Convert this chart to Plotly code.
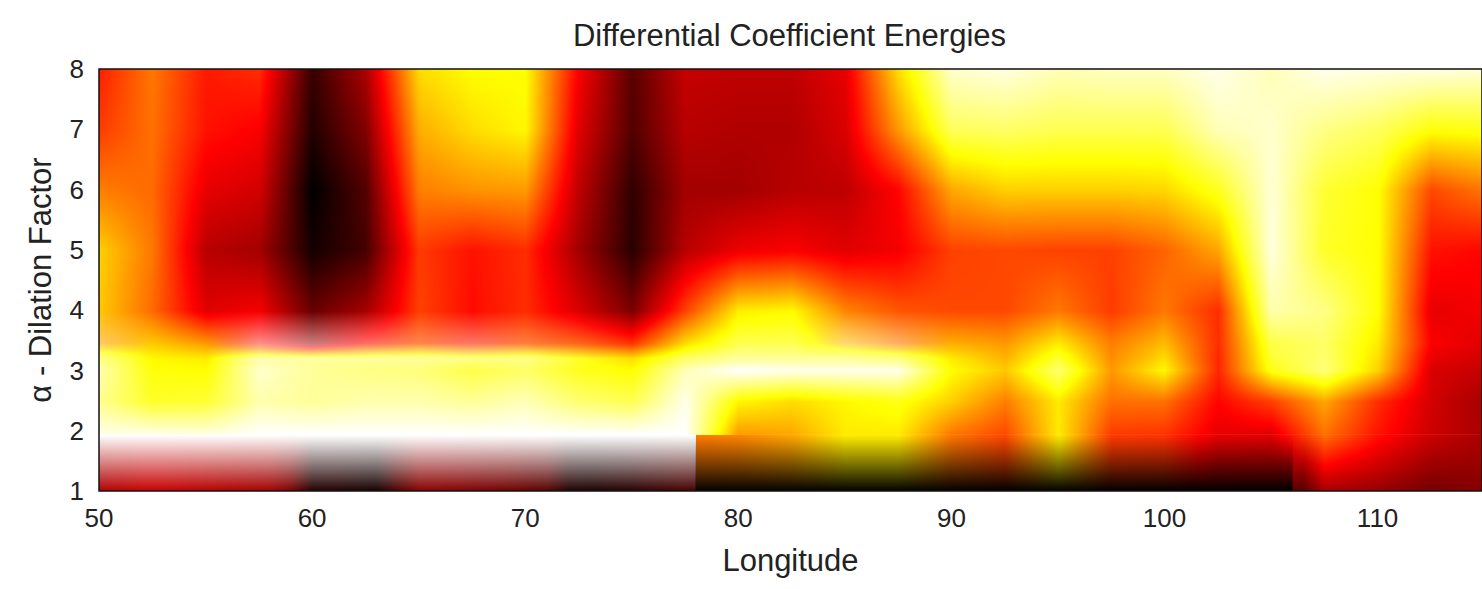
import plotly.graph_objects as go

TITLE = "Differential Coefficient Energies"
X_LABEL = "Longitude"
Y_LABEL = "α - Dilation Factor"
X_TICKS = [50, 60, 70, 80, 90, 100, 110]
Y_TICKS = [1, 2, 3, 4, 5, 6, 7, 8]

LONGITUDE = [50 + 2.5 * i for i in range(27)]

# energies, one list per dilation row (0 black .. 1 white)
ROW_194 = [.98,.98,.97,1,1,1,1,1,1,1,1,1,.6,.62,.72,.72,.55,.48,.72,.46,.45,.34,.33,.54,.4,.3,.25]
ROW_25 = [.89,.79,.8,.92,.9,.92,.92,.9,.93,.86,.83,.98,.74,.7,.74,.77,.68,.56,.72,.54,.54,.38,.47,.62,.44,.31,.24]
ROW_3 = [.92,.76,.75,.95,.9,.88,.87,.82,.85,.78,.75,.93,1,.98,.98,.98,.75,.67,.86,.6,.74,.43,.77,.87,.68,.32,.29]
ROW_32 = [.85,.74,.72,.88,.85,.84,.84,.8,.82,.75,.7,.85,.9,.9,.88,.85,.72,.64,.8,.58,.7,.43,.8,.86,.7,.34,.31]
ROW_34 = [.62,.67,.6,.4,.22,.4,.5,.42,.5,.5,.45,.7,.83,.83,.65,.56,.63,.6,.72,.56,.65,.44,.82,.85,.72,.37,.33]
ROW_4 = [.67,.53,.33,.36,.15,.24,.47,.39,.44,.32,.18,.47,.72,.74,.57,.5,.48,.48,.55,.46,.55,.44,.92,.88,.75,.34,.36]
ROW_5 = [.68,.55,.27,.24,.03,.1,.46,.4,.44,.24,.06,.27,.35,.37,.33,.36,.47,.48,.47,.47,.52,.62,.97,.79,.75,.4,.38]
ROW_6 = [.56,.53,.34,.31,0,.12,.56,.59,.6,.28,.07,.24,.24,.27,.28,.38,.62,.68,.68,.68,.69,.78,.96,.8,.75,.48,.55]
ROW_7 = [.46,.54,.4,.37,.05,.19,.63,.7,.74,.33,.12,.27,.26,.26,.32,.6,.84,.85,.83,.83,.83,.93,.95,.88,.84,.76,.77]
ROW_8 = [.42,.55,.41,.44,.08,.25,.7,.75,.75,.37,.13,.29,.28,.28,.34,.7,.95,.97,.93,.94,.94,.98,.93,.98,.97,.97,.96]
UPPER_Y = [1.94, 2.5, 3, 3.2, 3.45, 4, 5, 6, 7, 8]

# lowest band: it fades in plain colour towards white (left part) or black (right part)
BAND_LEFT_X = [50,51,52,53,54,55,56,57,58,59,60,61,62,63,64,65,66,67,68,69,70,71,72,73,74,75,76,77.33]
BAND_LEFT = [.26,.27,.29,.29,.28,.27,.26,.25,.24,.18,.05,.05,.04,.03,.12,.2,.2,.19,.18,.17,.15,.13,.05,.04,.05,.06,.08,.1]
BAND_RIGHT_X = [77.5 + 2.5 * i for i in range(16)]
BAND_RIGHT_BOTTOM = [.55,.57,.62,.72,.72,.55,.48,.72,.46,.45,.34,.33,.24,.22,.17,.2]
BAND_RIGHT_TOP = [.55,.57,.62,.72,.72,.55,.48,.72,.46,.45,.34,.33,.54,.4,.3,.25]
BAND_Y = [1, 1.93]
FADE_TO_WHITE = [[0, 0], [1, 1]]
FADE_TO_BLACK = [[1, 1], [0, 0]]
WHITE_FADE_X = [57, 71]
BLACK_FADE_X = [85, 99]
EDGE_FADE_X = [106.5, 107.5]
EDGE_FADE = [[.55, 0], [0, 0]]

# pale wash over the rows at 3.2 and 3.45
WASH_32 = [.25,0,0,.35,.4,.4,.4,.4,.35,.15,0,0,0,0,.2,.2,0,0,0,0,0,0,0,0,0,0,0]
WASH_34 = [.4,0,0,.55,.5,.4,.3,.4,.25,.1,0,0,0,0,.45,.4,0,0,0,0,0,0,0,0,0,0,0]
WASH_ZERO = [0] * 27
WASH_Y = [3, 3.2, 3.45, 4]

HOT = [[0, "#000000"], [0.375, "#ff0000"], [0.75, "#ffff00"], [1, "#ffffff"]]
WHITE_SCALE = [[0, "rgba(255,255,255,0)"], [1, "rgba(255,255,255,1)"]]
BLACK_SCALE = [[0, "rgba(0,0,0,0)"], [1, "rgba(0,0,0,1)"]]

W, H = 1482, 589
L, R, T, B = 99, 1482, 69, 491
FONT = "Liberation Sans, Arial, sans-serif"
TEXT = "#222222"


def layer(x, y, z, scale, yaxis):
    return go.Heatmap(x=x, y=y, z=z, colorscale=scale, zmin=0, zmax=1, zsmooth="best",
                      showscale=False, hoverinfo="skip", xaxis="x", yaxis=yaxis)


fig = go.Figure()
fig.add_trace(layer(LONGITUDE, UPPER_Y,
                    [ROW_194, ROW_25, ROW_3, ROW_32, ROW_34, ROW_4, ROW_5, ROW_6, ROW_7, ROW_8], HOT, "y"))
fig.add_trace(layer(LONGITUDE, WASH_Y, [WASH_ZERO, WASH_32, WASH_34, WASH_ZERO], WHITE_SCALE, "y"))
fig.add_trace(layer(BAND_RIGHT_X, BAND_Y, [BAND_RIGHT_BOTTOM, BAND_RIGHT_TOP], HOT, "y2"))
fig.add_trace(layer(BAND_LEFT_X, BAND_Y, [BAND_LEFT, BAND_LEFT], HOT, "y2"))
fig.add_trace(layer(WHITE_FADE_X, BAND_Y, FADE_TO_WHITE, WHITE_SCALE, "y2"))
fig.add_trace(layer(BLACK_FADE_X, BAND_Y, FADE_TO_BLACK, BLACK_SCALE, "y2"))
fig.add_trace(layer(EDGE_FADE_X, BAND_Y, EDGE_FADE, BLACK_SCALE, "y2"))

fig.update_layout(
    width=W, height=H, autosize=False,
    margin=dict(l=L, r=W - R, t=T, b=H - B),
    paper_bgcolor="white", plot_bgcolor="white",
    font=dict(family=FONT, size=26, color=TEXT),
    title=dict(text=TITLE, x=(563 + 1016) / 2 / W, xanchor="center",
               y=1 - 35 / H, yanchor="middle", font=dict(size=31, color=TEXT)),
    xaxis=dict(range=[50, 114.9], tickvals=X_TICKS, showgrid=False, zeroline=False,
               ticks="", ticklabelstandoff=9, tickfont=dict(size=26),
               title=dict(text=X_LABEL, standoff=17, font=dict(size=31))),
    yaxis=dict(range=[1, 8], tickvals=Y_TICKS, showgrid=False, zeroline=False,
               ticks="", ticklabelstandoff=14, tickfont=dict(size=26), domain=[0, 1],
               title=dict(text=Y_LABEL, standoff=8, font=dict(size=31))),
    yaxis2=dict(range=[1, 1.93], domain=[0, 0.93 / 7], showgrid=False, zeroline=False,
                showticklabels=False, ticks="", anchor="x"),
    shapes=[dict(type="rect", xref="paper", yref="paper", x0=0, x1=1, y0=0, y1=1,
                 line=dict(color="#111111", width=1.5), layer="above")],
)

fig.write_html("out.html", config={"displayModeBar": False},
               post_script="document.body.style.margin='0';")
